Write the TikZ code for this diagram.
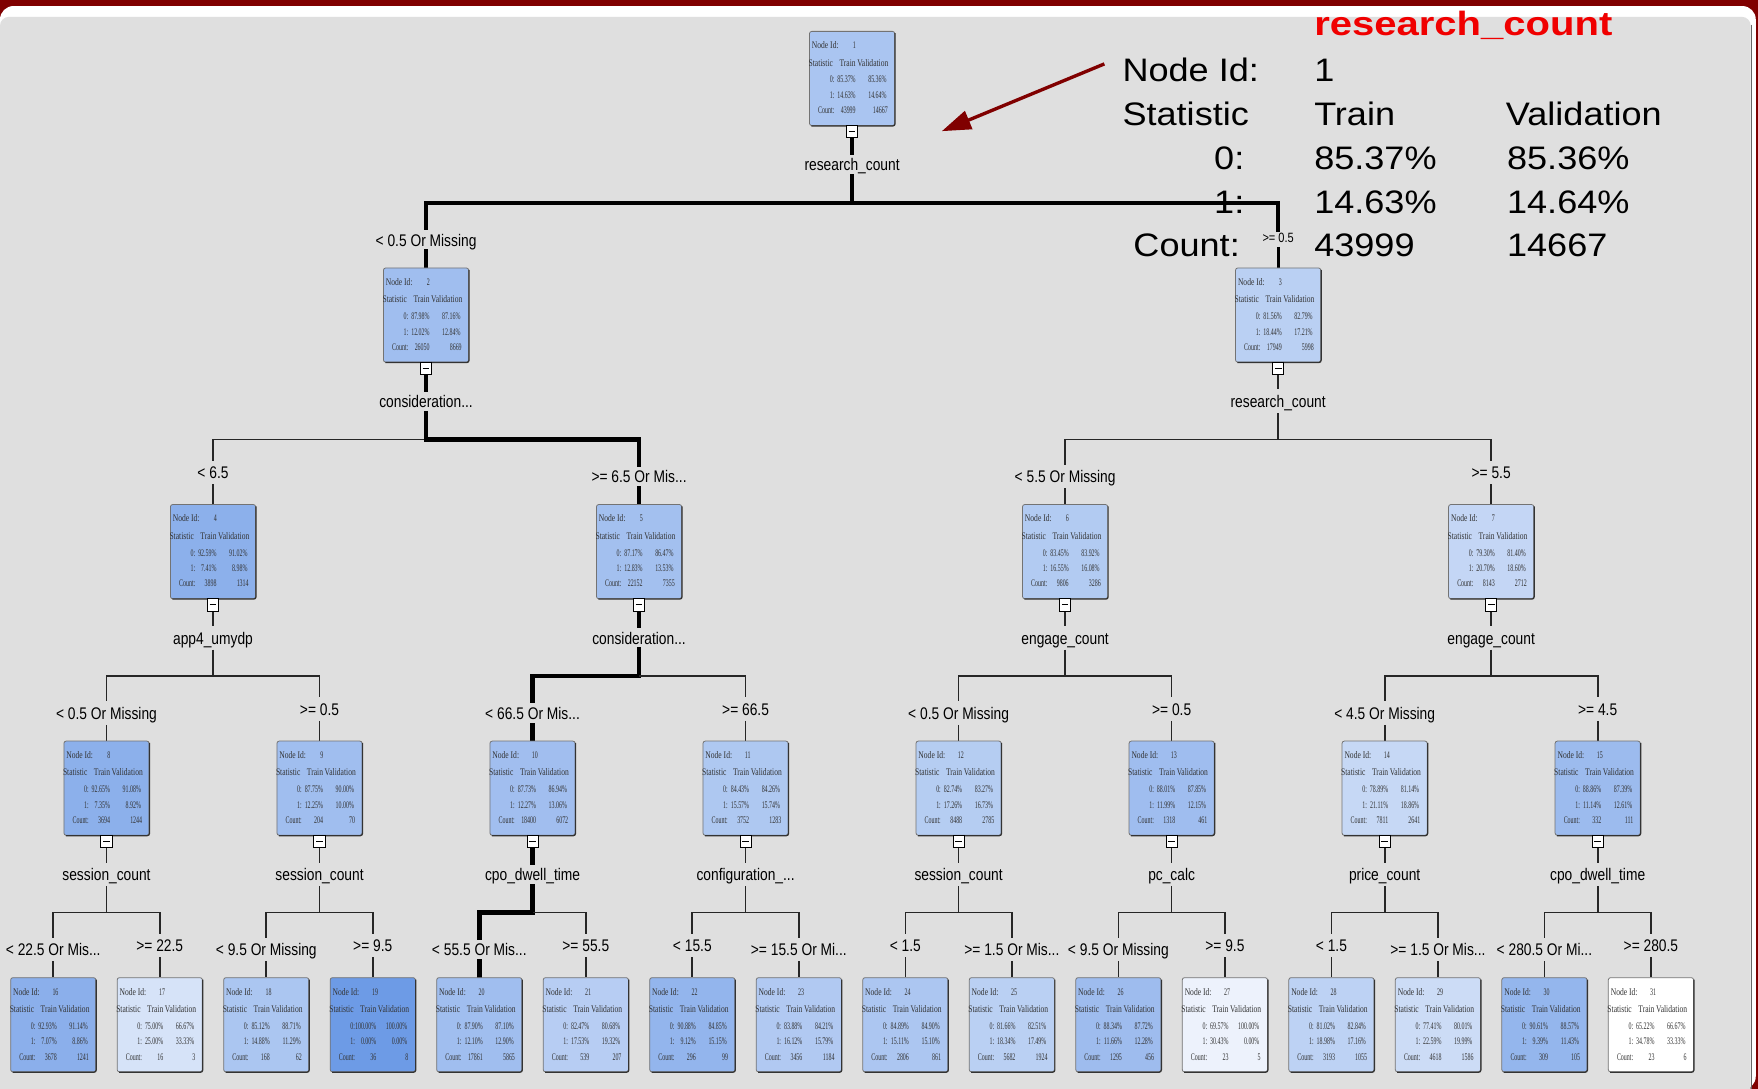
\documentclass[tikz,border=0pt]{standalone}
\usepackage{fontspec}
\setmainfont{Liberation Sans}
\newfontfamily\boxfont[FakeStretch=0.75]{Liberation Serif}
\newfontfamily\numfont[FakeStretch=0.59]{Liberation Serif}
\newfontfamily\labfont[FakeStretch=0.82]{Liberation Sans}
\newfontfamily\ovfont[FakeStretch=1.11]{Liberation Sans}
\newfontfamily\ovtfont[FakeStretch=1.19]{Liberation Sans Bold}
\usetikzlibrary{arrows.meta}
\definecolor{slidered}{RGB}{128,0,0}
\definecolor{panelgray}{RGB}{223,223,223}
\definecolor{nodeblue}{RGB}{109,155,230}
\definecolor{arrowred}{RGB}{128,0,0}
\definecolor{titlered}{RGB}{240,0,0}
\pgfdeclarelayer{back}
\pgfdeclarelayer{lines}
\pgfsetlayers{back,lines,main}
\tikzset{
  x=1pt, y=-1pt,
  tbox/.style={draw=black!55, line width=0.7pt, rounded corners=2pt, minimum width=76pt, minimum height=84pt, inner sep=0pt},
  tshadow/.style={draw=black!80, line width=1.1pt, rounded corners=2pt},
  btxt/.style={font=\boxfont\fontsize{9}{9}\selectfont, inner sep=0pt, text=black!80},
  ntxt/.style={font=\numfont\fontsize{9}{9}\selectfont, inner sep=0pt, text=black!80},
  minusbox/.style={draw=black, fill=white, line width=0.8pt, minimum width=10pt, minimum height=11pt, inner sep=0pt},
  lab/.style={font=\labfont\fontsize{15}{15}\selectfont, anchor=base, inner xsep=1pt, inner ysep=0pt, text height=16pt, text depth=4.8pt},
  smalllab/.style={font=\labfont\fontsize{12}{12}\selectfont, anchor=base, inner xsep=1pt, inner ysep=0pt, text height=11.7pt, text depth=3.3pt},
  thk/.style={line width=4pt, line cap=rect, black},
  med/.style={line width=2.6pt, black},
  thn/.style={line width=1.5pt, black!85},
  ovtxt/.style={font=\ovfont\fontsize{29}{29}\selectfont, inner sep=0pt},
  ovtitle/.style={font=\ovtfont\fontsize{30}{30}\selectfont, inner sep=0pt, text=titlered},
  arr/.style={line width=3pt, arrowred, -{Triangle[length=26pt,width=17pt]}},
}
\def\parsest#1/#2/#3/#4/#5/#6\relax{\def\sA{#1}\def\sB{#2}\def\sC{#3}\def\sD{#4}\def\sE{#5}\def\sF{#6}}
% name, cx, top, shade, id, stats
\newcommand\tbox[6]{%
  \parsest#6\relax
  \node[tbox, fill=nodeblue!#4!white] (#1) at (#2,#3+42) {};
  \draw[tshadow] ([yshift=-2pt]#1.north east) -- (#1.south east) -- ([xshift=2pt]#1.south west);
  \node[btxt, anchor=base west] (#1-t1) at (#2-36,#3+15.5) {Node Id:};
  \node[ntxt, anchor=base] (#1-t2) at (#2+2,#3+15.5) {#5};
  \node[btxt, anchor=base west] (#1-t3) at (#2-39,#3+31) {Statistic};
  \node[btxt, anchor=base] (#1-t4) at (#2-4,#3+31) {Train};
  \node[btxt, anchor=base] (#1-t5) at (#2+18.5,#3+31) {Validation};
  \node[ntxt, anchor=base east] (#1-t6) at (#2-15.6,#3+46) {0:};
  \node[ntxt, anchor=base east] (#1-t7) at (#2+3.4,#3+46) {\sA};
  \node[ntxt, anchor=base east] (#1-t8) at (#2+31,#3+46) {\sB};
  \node[ntxt, anchor=base east] (#1-t9) at (#2-15.6,#3+60) {1:};
  \node[ntxt, anchor=base east] (#1-t10) at (#2+3.4,#3+60) {\sC};
  \node[ntxt, anchor=base east] (#1-t11) at (#2+31,#3+60) {\sD};
  \node[ntxt, anchor=base east] (#1-t12) at (#2-15.6,#3+73.5) {Count:};
  \node[ntxt, anchor=base east] (#1-t13) at (#2+3.4,#3+73.5) {\sE};
  \node[ntxt, anchor=base east] (#1-t14) at (#2+32,#3+73.5) {\sF};
}
% name, cx, top, split label
\newcommand\inner[4]{%
  \node[minusbox] (#1-m) at (#2,#3+89.5) {};
  \draw[line width=0.9pt] ([xshift=-3pt]#1-m.center) -- ([xshift=3pt]#1-m.center);
  \node[lab] (#1-s) at (#2,#3+124.5) {#4};
  \coordinate (#1-j) at (#2,#3+153);
}
% child labels: long (with Or) and short
\newcommand\clab[4]{\node[lab] (#1-c) at (#2,#3-19.5) {#4};}
\newcommand\clabs[4]{\node[lab] (#1-c) at (#2,#3-23) {#4};}
\newcommand\stem[2]{\draw[#2] (#1-m) -- (#1-s); \draw[#2] (#1-s) -- (#1-j);}
\newcommand\edge[4]{\draw[#3] (#1-j) -| (#2-c); \draw[#4] (#2-c) -- (#2);}

\begin{document}
\begin{tikzpicture}
\useasboundingbox (0,0) rectangle (1568,971);

% ---------- nodes ----------
\tbox{n1}{760}{28}{57.9}{1}{85.37\%/85.36\%/14.63\%/14.64\%/43999/14667}
\inner{n1}{760}{28}{research\_count}

\tbox{n2}{380}{239}{65.4}{2}{87.98\%/87.16\%/12.02\%/12.84\%/26050/8669}
\inner{n2}{380}{239}{consideration...}
\clab{n2}{380}{239}{< 0.5 Or Missing}
\tbox{n3}{1140}{239}{47.0}{3}{81.56\%/82.79\%/18.44\%/17.21\%/17949/5998}
\inner{n3}{1140}{239}{research\_count}
\node[smalllab] (n3-c) at (1140,239-22.3) {>= 0.5};

\tbox{n4}{190}{450}{78.7}{4}{92.59\%/91.02\%/7.41\%/8.98\%/3898/1314}
\inner{n4}{190}{450}{app4\_umydp}
\clabs{n4}{190}{450}{< 6.5}
\tbox{n5}{570}{450}{63.1}{5}{87.17\%/86.47\%/12.83\%/13.53\%/22152/7355}
\inner{n5}{570}{450}{consideration...}
\clab{n5}{570}{450}{>= 6.5 Or Mis...}
\tbox{n6}{950}{450}{52.4}{6}{83.45\%/83.92\%/16.55\%/16.08\%/9806/3286}
\inner{n6}{950}{450}{engage\_count}
\clab{n6}{950}{450}{< 5.5 Or Missing}
\tbox{n7}{1330}{450}{40.5}{7}{79.30\%/81.40\%/20.70\%/18.60\%/8143/2712}
\inner{n7}{1330}{450}{engage\_count}
\clabs{n7}{1330}{450}{>= 5.5}

\tbox{n8}{95}{661}{78.9}{8}{92.65\%/91.08\%/7.35\%/8.92\%/3694/1244}
\inner{n8}{95}{661}{session\_count}
\clab{n8}{95}{661}{< 0.5 Or Missing}
\tbox{n9}{285}{661}{64.8}{9}{87.75\%/90.00\%/12.25\%/10.00\%/204/70}
\inner{n9}{285}{661}{session\_count}
\clabs{n9}{285}{661}{>= 0.5}
\tbox{n10}{475}{661}{64.7}{10}{87.73\%/86.94\%/12.27\%/13.06\%/18400/6072}
\inner{n10}{475}{661}{cpo\_dwell\_time}
\clab{n10}{475}{661}{< 66.5 Or Mis...}
\tbox{n11}{665}{661}{55.2}{11}{84.43\%/84.26\%/15.57\%/15.74\%/3752/1283}
\inner{n11}{665}{661}{configuration\_...}
\clabs{n11}{665}{661}{>= 66.5}
\tbox{n12}{855}{661}{50.4}{12}{82.74\%/83.27\%/17.26\%/16.73\%/8488/2785}
\inner{n12}{855}{661}{session\_count}
\clab{n12}{855}{661}{< 0.5 Or Missing}
\tbox{n13}{1045}{661}{65.5}{13}{88.01\%/87.85\%/11.99\%/12.15\%/1318/461}
\inner{n13}{1045}{661}{pc\_calc}
\clabs{n13}{1045}{661}{>= 0.5}
\tbox{n14}{1235}{661}{39.3}{14}{78.89\%/81.14\%/21.11\%/18.86\%/7811/2641}
\inner{n14}{1235}{661}{price\_count}
\clab{n14}{1235}{661}{< 4.5 Or Missing}
\tbox{n15}{1425}{661}{68.0}{15}{88.86\%/87.39\%/11.14\%/12.61\%/332/111}
\inner{n15}{1425}{661}{cpo\_dwell\_time}
\clabs{n15}{1425}{661}{>= 4.5}

\tbox{n16}{47.5}{872}{79.7}{16}{92.93\%/91.14\%/7.07\%/8.86\%/3678/1241}
\clab{n16}{47.5}{872}{< 22.5 Or Mis...}
\tbox{n17}{142.5}{872}{28.1}{17}{75.00\%/66.67\%/25.00\%/33.33\%/16/3}
\clabs{n17}{142.5}{872}{>= 22.5}
\tbox{n18}{237.5}{872}{57.2}{18}{85.12\%/88.71\%/14.88\%/11.29\%/168/62}
\clab{n18}{237.5}{872}{< 9.5 Or Missing}
\tbox{n19}{332.5}{872}{100}{19}{100.00\%/100.00\%/0.00\%/0.00\%/36/8}
\clabs{n19}{332.5}{872}{>= 9.5}
\tbox{n20}{427.5}{872}{65.2}{20}{87.90\%/87.10\%/12.10\%/12.90\%/17861/5865}
\clab{n20}{427.5}{872}{< 55.5 Or Mis...}
\tbox{n21}{522.5}{872}{49.6}{21}{82.47\%/80.68\%/17.53\%/19.32\%/539/207}
\clabs{n21}{522.5}{872}{>= 55.5}
\tbox{n22}{617.5}{872}{73.8}{22}{90.88\%/84.85\%/9.12\%/15.15\%/296/99}
\clabs{n22}{617.5}{872}{< 15.5}
\tbox{n23}{712.5}{872}{53.7}{23}{83.88\%/84.21\%/16.12\%/15.79\%/3456/1184}
\clab{n23}{712.5}{872}{>= 15.5 Or Mi...}
\tbox{n24}{807.5}{872}{56.6}{24}{84.89\%/84.90\%/15.11\%/15.10\%/2806/861}
\clabs{n24}{807.5}{872}{< 1.5}
\tbox{n25}{902.5}{872}{47.3}{25}{81.66\%/82.51\%/18.34\%/17.49\%/5682/1924}
\clab{n25}{902.5}{872}{>= 1.5 Or Mis...}
\tbox{n26}{997.5}{872}{66.5}{26}{88.34\%/87.72\%/11.66\%/12.28\%/1295/456}
\clab{n26}{997.5}{872}{< 9.5 Or Missing}
\tbox{n27}{1092.5}{872}{12.5}{27}{69.57\%/100.00\%/30.43\%/0.00\%/23/5}
\clabs{n27}{1092.5}{872}{>= 9.5}
\tbox{n28}{1187.5}{872}{45.4}{28}{81.02\%/82.84\%/18.98\%/17.16\%/3193/1055}
\clabs{n28}{1187.5}{872}{< 1.5}
\tbox{n29}{1282.5}{872}{35.0}{29}{77.41\%/80.01\%/22.59\%/19.99\%/4618/1586}
\clab{n29}{1282.5}{872}{>= 1.5 Or Mis...}
\tbox{n30}{1377.5}{872}{73.0}{30}{90.61\%/88.57\%/9.39\%/11.43\%/309/105}
\clab{n30}{1377.5}{872}{< 280.5 Or Mi...}
\tbox{n31}{1472.5}{872}{0}{31}{65.22\%/66.67\%/34.78\%/33.33\%/23/6}
\clabs{n31}{1472.5}{872}{>= 280.5}

% ---------- connectors ----------
\begin{pgfonlayer}{lines}
\stem{n1}{thk}
\edge{n1}{n2}{thk}{thk}
\edge{n1}{n3}{thk}{med}
\stem{n2}{thk}
\edge{n2}{n4}{thn}{thn}
\edge{n2}{n5}{thk}{thk}
\stem{n3}{thn}
\edge{n3}{n6}{thn}{thn}
\edge{n3}{n7}{thn}{thn}
\stem{n4}{thn}
\edge{n4}{n8}{thn}{thn}
\edge{n4}{n9}{thn}{thn}
\stem{n5}{thk}
\edge{n5}{n10}{thk}{thk}
\edge{n5}{n11}{thn}{thn}
\stem{n6}{thn}
\edge{n6}{n12}{thn}{thn}
\edge{n6}{n13}{thn}{thn}
\stem{n7}{thn}
\edge{n7}{n14}{thn}{thn}
\edge{n7}{n15}{thn}{thn}
\stem{n8}{thn}
\edge{n8}{n16}{thn}{thn}
\edge{n8}{n17}{thn}{thn}
\stem{n9}{thn}
\edge{n9}{n18}{thn}{thn}
\edge{n9}{n19}{thn}{thn}
\stem{n10}{thk}
\edge{n10}{n20}{thk}{thk}
\edge{n10}{n21}{thn}{thn}
\stem{n11}{thn}
\edge{n11}{n22}{thn}{thn}
\edge{n11}{n23}{thn}{thn}
\stem{n12}{thn}
\edge{n12}{n24}{thn}{thn}
\edge{n12}{n25}{thn}{thn}
\stem{n13}{thn}
\edge{n13}{n26}{thn}{thn}
\edge{n13}{n27}{thn}{thn}
\stem{n14}{thn}
\edge{n14}{n28}{thn}{thn}
\edge{n14}{n29}{thn}{thn}
\stem{n15}{thn}
\edge{n15}{n30}{thn}{thn}
\edge{n15}{n31}{thn}{thn}
\end{pgfonlayer}

% ---------- background panel ----------
\begin{pgfonlayer}{back}
\fill[slidered] (0,0) rectangle (1568,971);
\fill[white, rounded corners=12pt] (0,5.4) rectangle (1566,972);
\fill[panelgray, rounded corners=8pt] (0,15) rectangle (1561.5,1000);
\draw[black!60, line width=1pt] (1562.5,22) -- (1562.5,971);
\end{pgfonlayer}

% ---------- overlay ----------
\node[ovtitle, anchor=base west] (ot) at (1172,31.8) {research\_count};
\node[ovtxt, anchor=base west] (oa1) at (1001,72.9) {Node Id:};
\node[ovtxt, anchor=base west] (ob1) at (1172,72.9) {1};
\node[ovtxt, anchor=base west] (oa2) at (1001,111.5) {Statistic};
\node[ovtxt, anchor=base west] (ob2) at (1172,111.5) {Train};
\node[ovtxt, anchor=base west] (oc2) at (1343,111.5) {Validation};
\node[ovtxt, anchor=base east] (oa3) at (1110,151.6) {0:};
\node[ovtxt, anchor=base west] (ob3) at (1172,151.6) {85.37\%};
\node[ovtxt, anchor=base west] (oc3) at (1344,151.6) {85.36\%};
\node[ovtxt, anchor=base east] (oa4) at (1110,190) {1:};
\node[ovtxt, anchor=base west] (ob4) at (1172,190) {14.63\%};
\node[ovtxt, anchor=base west] (oc4) at (1344,190) {14.64\%};
\node[ovtxt, anchor=base east] (oa5) at (1106,228.4) {Count:};
\node[ovtxt, anchor=base west] (ob5) at (1172,228.4) {43999};
\node[ovtxt, anchor=base west] (oc5) at (1344,228.4) {14667};
\coordinate (arrS) at (985,57);
\coordinate (arrE) at (840,117);
\draw[arr] (arrS) -- (arrE);
\end{tikzpicture}
\end{document}
